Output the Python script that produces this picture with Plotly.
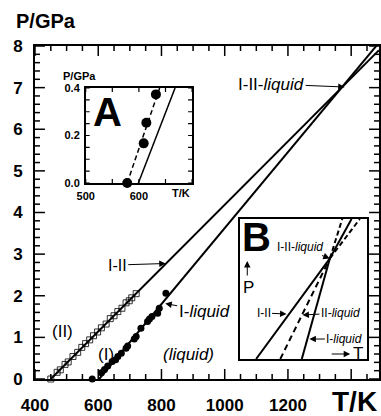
import plotly.graph_objects as go

# ---------------- data ----------------
sq_T = [450, 470, 480, 495, 505, 520, 535, 548, 560, 573, 585, 598, 610, 625, 638, 650, 662, 675, 688, 698, 706, 720]
sq_P = [0.0, 0.16, 0.22, 0.35, 0.41, 0.54, 0.64, 0.76, 0.85, 0.94, 1.04, 1.13, 1.23, 1.32, 1.45, 1.52, 1.62, 1.70, 1.83, 1.88, 1.95, 2.05]
ci_T = [581, 610, 620, 630, 644, 655, 662, 673, 688, 693, 714, 720, 735, 756, 762, 770, 788, 793, 814]
ci_P = [0.0, 0.15, 0.23, 0.31, 0.42, 0.46, 0.54, 0.62, 0.74, 0.79, 0.96, 1.02, 1.22, 1.38, 1.44, 1.50, 1.58, 1.70, 2.06]
line_I_II_T = [450, 1488]
line_I_II_P = [0.0, 7.90]
line_I_liq_T = [603, 1488]
line_I_liq_P = [0.0, 8.08]

x_ticks = [400, 600, 800, 1000, 1200, 1400]
x_tick_text = ["400", "600", "800", "1000", "1200", ""]
x_minor = [450, 500, 550, 650, 700, 750, 850, 900, 950, 1050, 1100, 1150, 1250, 1300, 1350, 1450]
y_ticks = [0, 1, 2, 3, 4, 5, 6, 7, 8]
y_tick_text = ["0", "1", "2", "3", "4", "5", "6", "7", "8"]
y_minor = [0.2, 0.4, 0.6, 0.8, 1.2, 1.4, 1.6, 1.8, 2.2, 2.4, 2.6, 2.8, 3.2, 3.4, 3.6, 3.8,
           4.2, 4.4, 4.6, 4.8, 5.2, 5.4, 5.6, 5.8, 6.2, 6.4, 6.6, 6.8, 7.2, 7.4, 7.6, 7.8]

insA_T = [578, 609, 614, 632]
insA_P = [0.0, 0.167, 0.254, 0.373]
insA_dash_T = [578, 639]
insA_dash_P = [0.0, 0.4]
insA_solid_T = [599, 668]
insA_solid_P = [0.0, 0.4]
insA_xticks = [500, 550, 600, 650, 700]
insA_xtext = ["500", "", "600", "", ""]
insA_yticks = [0.0, 0.05, 0.1, 0.15, 0.2, 0.25, 0.3, 0.35, 0.4]
insA_ytext = ["0.0", "", "", "", "0.2", "", "", "", "0.4"]

B_I_II_stable_x = [0.128, 0.708]
B_I_II_stable_y = [0.0, 0.719]
B_I_II_meta_x = [0.708, 0.943]
B_I_II_meta_y = [0.719, 1.0]
B_II_liq_meta_x = [0.318, 0.708]
B_II_liq_meta_y = [0.0, 0.719]
B_II_liq_stable_x = [0.708, 0.878]
B_II_liq_stable_y = [0.719, 1.0]
B_I_liq_stable_x = [0.487, 0.708]
B_I_liq_stable_y = [0.0, 0.719]
B_I_liq_meta_x = [0.708, 0.805]
B_I_liq_meta_y = [0.719, 1.0]

# ---------------- figure ----------------
W, H = 381, 416
ML, MR, MT, MB = 35, 0, 46, 37
PW, PH = W - ML - MR, H - MT - MB
X_RANGE = [400, 1488]
Y_RANGE = [0, 8]
A_X_RANGE = [500, 700]
A_Y_RANGE = [0, 0.4]
A_BOX = (86, 193, 88, 183)  # left, right, top, bottom pixels


def px(x):
    return (x - ML) / PW


def py(y):
    return (H - MB - y) / PH


FONT = "Liberation Sans"
BLK = "#000000"

fig = go.Figure()

fig.add_trace(go.Scatter(x=line_I_II_T, y=line_I_II_P, mode="lines",
                         line=dict(color=BLK, width=2), xaxis="x", yaxis="y"))
fig.add_trace(go.Scatter(x=line_I_liq_T, y=line_I_liq_P, mode="lines",
                         line=dict(color=BLK, width=2), xaxis="x", yaxis="y"))
fig.add_trace(go.Scatter(x=sq_T, y=sq_P, mode="markers",
                         marker=dict(symbol="square-open", size=6, color=BLK, line=dict(width=0.8)),
                         xaxis="x", yaxis="y", cliponaxis=False))
fig.add_trace(go.Scatter(x=ci_T, y=ci_P, mode="markers",
                         marker=dict(symbol="circle", size=7, color=BLK),
                         xaxis="x", yaxis="y", cliponaxis=False))

fig.add_trace(go.Scatter(x=insA_dash_T, y=insA_dash_P, mode="lines",
                         line=dict(color=BLK, width=1.5, dash="5px,3px"), xaxis="x2", yaxis="y2"))
fig.add_trace(go.Scatter(x=insA_solid_T, y=insA_solid_P, mode="lines",
                         line=dict(color=BLK, width=1.5), xaxis="x2", yaxis="y2"))
fig.add_trace(go.Scatter(x=insA_T, y=insA_P, mode="markers",
                         marker=dict(symbol="circle", size=10, color=BLK),
                         xaxis="x2", yaxis="y2", cliponaxis=False))

for xs, ys, dash in [
    (B_I_II_stable_x, B_I_II_stable_y, "solid"),
    (B_I_II_meta_x, B_I_II_meta_y, "5px,3px"),
    (B_II_liq_meta_x, B_II_liq_meta_y, "6px,4px"),
    (B_II_liq_stable_x, B_II_liq_stable_y, "solid"),
    (B_I_liq_stable_x, B_I_liq_stable_y, "solid"),
    (B_I_liq_meta_x, B_I_liq_meta_y, "5px,3px"),
]:
    fig.add_trace(go.Scatter(x=xs, y=ys, mode="lines",
                             line=dict(color=BLK, width=2, dash=dash), xaxis="x3", yaxis="y3"))


# --- inward tick marks, built from the tick arrays and laid out on the axis scales ---
def tick_segments(xvals, yvals, xr, yr, wpx, hpx, xlen_px, ylen_px):
    """Vertical ticks at xvals on bottom/top, horizontal ticks at yvals on left/right."""
    ux = (xr[1] - xr[0]) / wpx   # data units per pixel
    uy = (yr[1] - yr[0]) / hpx
    xs, ys = [], []
    for t in xvals:
        xs += [t, t, None, t, t, None]
        ys += [yr[0], yr[0] + ylen_px * uy, None, yr[1], yr[1] - ylen_px * uy, None]
    for p in yvals:
        xs += [xr[0], xr[0] + xlen_px * ux, None, xr[1], xr[1] - xlen_px * ux, None]
        ys += [p, p, None, p, p, None]
    return xs, ys


for xv, yv, ln in [(x_ticks, y_ticks, 10), (x_minor, y_minor, 5)]:
    tx, ty = tick_segments(xv, yv, X_RANGE, Y_RANGE, PW, PH, ln, ln)
    fig.add_trace(go.Scatter(x=tx, y=ty, mode="lines", line=dict(color=BLK, width=1.5),
                             xaxis="x", yaxis="y", hoverinfo="skip"))
aw, ah = A_BOX[1] - A_BOX[0], A_BOX[3] - A_BOX[2]
tx, ty = tick_segments(insA_xticks, insA_yticks, A_X_RANGE, A_Y_RANGE, aw, ah, 4, 4)
fig.add_trace(go.Scatter(x=tx, y=ty, mode="lines", line=dict(color=BLK, width=1.2),
                         xaxis="x2", yaxis="y2", hoverinfo="skip"))

fig.update_layout(
    width=W, height=H,
    margin=dict(l=ML, r=MR, t=MT, b=MB),
    paper_bgcolor="white", plot_bgcolor="white",
    showlegend=False,
    font=dict(family=FONT, color=BLK),
    xaxis=dict(
        domain=[0, 1], range=X_RANGE, anchor="y",
        showgrid=False, zeroline=False, showline=True, linecolor=BLK, linewidth=2, mirror=True,
        ticks="", tickmode="array", tickvals=x_ticks, ticktext=x_tick_text,
        tickfont=dict(family=FONT, size=17, weight="bold"), ticklabelstandoff=10,
    ),
    yaxis=dict(
        domain=[0, 1], range=Y_RANGE, anchor="x",
        showgrid=False, zeroline=False, showline=True, linecolor=BLK, linewidth=2, mirror=True,
        ticks="", tickmode="array", tickvals=y_ticks, ticktext=y_tick_text,
        tickfont=dict(family=FONT, size=17, weight="bold"), ticklabelstandoff=7,
    ),
    xaxis2=dict(
        domain=[px(A_BOX[0]), px(A_BOX[1])], range=A_X_RANGE, anchor="y2",
        showgrid=False, zeroline=False, showline=True, linecolor=BLK, linewidth=1.5, mirror=True,
        ticks="", tickmode="array", tickvals=insA_xticks, ticktext=insA_xtext,
        tickfont=dict(family=FONT, size=11, weight="bold"), ticklabelstandoff=2,
    ),
    yaxis2=dict(
        domain=[py(A_BOX[3]), py(A_BOX[2])], range=A_Y_RANGE, anchor="x2",
        showgrid=False, zeroline=False, showline=True, linecolor=BLK, linewidth=1.5, mirror=True,
        ticks="", tickmode="array", tickvals=insA_yticks, ticktext=insA_ytext,
        tickfont=dict(family=FONT, size=11, weight="bold"), ticklabelstandoff=2,
    ),
    xaxis3=dict(showgrid=False, zeroline=False, showline=True, linecolor=BLK, linewidth=2, mirror=True,
                ticks="", showticklabels=False, range=[0, 1], domain=[px(241), px(369)], anchor="y3"),
    yaxis3=dict(showgrid=False, zeroline=False, showline=True, linecolor=BLK, linewidth=2, mirror=True,
                ticks="", showticklabels=False, range=[0, 1], domain=[py(359), py(219)], anchor="x3"),
)

ann = []


def text(x, y, s, size, bold=False, xanchor="center"):
    ann.append(dict(x=px(x), y=py(y), xref="paper", yref="paper", text=s, showarrow=False,
                    xanchor=xanchor, yanchor="middle",
                    font=dict(family=FONT, size=size, color=BLK, weight="bold" if bold else "normal")))


def arrow_text(tx, ty, tipx, tipy, s, size):
    ann.append(dict(x=px(tipx), y=py(tipy), xref="paper", yref="paper", text=s, showarrow=True,
                    ax=tx - tipx, ay=ty - tipy, arrowhead=2, arrowsize=1.3, arrowwidth=1,
                    arrowcolor=BLK, standoff=0,
                    font=dict(family=FONT, size=size, color=BLK)))


def arrow_only(x0, y0, x1, y1):
    ann.append(dict(x=px(x1), y=py(y1), xref="paper", yref="paper", text="", showarrow=True,
                    ax=x0 - x1, ay=y0 - y1, arrowhead=2, arrowsize=1.3, arrowwidth=1,
                    arrowcolor=BLK, standoff=0))


text(46, 21, "P/GPa", 20, bold=True)
ann.append(dict(x=1.0, y=py(402), xref="paper", yref="paper", text="T/K", showarrow=False,
                xanchor="right", yanchor="middle",
                font=dict(family=FONT, size=28, color=BLK, weight="bold")))

text(62.5, 331, "(II)", 17)
text(106.5, 354, "(I)", 17)
text(189, 354, "<i>(liquid)</i>", 17)
arrow_text(118, 265, 166.5, 263.5, "I-II", 16)
arrow_text(205, 311, 166, 303.5, "I-<i>liquid</i>", 17)
arrow_text(273, 84, 346.5, 87, "I-II-<i>liquid</i>", 17)

text(108, 112, "A", 40, bold=True)
text(80, 76, "P/GPa", 11, bold=True)
text(182, 193, "T/K", 11, bold=True)

text(258, 237, "B", 40, bold=True)
arrow_text(302, 247, 331.5, 258.5, "I-II-<i>liquid</i>", 12)
arrow_only(248.5, 277, 248.5, 261)
text(249.5, 287, "P", 17)
arrow_text(265, 313, 288, 314, "I-II", 12)
arrow_text(342, 313, 304, 315, "II-<i>liquid</i>", 12)
arrow_text(346, 339, 311, 339, "I-<i>liquid</i>", 12)
arrow_only(332, 354, 352, 354)
text(360, 353, "T", 17)

fig.update_layout(annotations=ann)

fig.write_html("out.html")
